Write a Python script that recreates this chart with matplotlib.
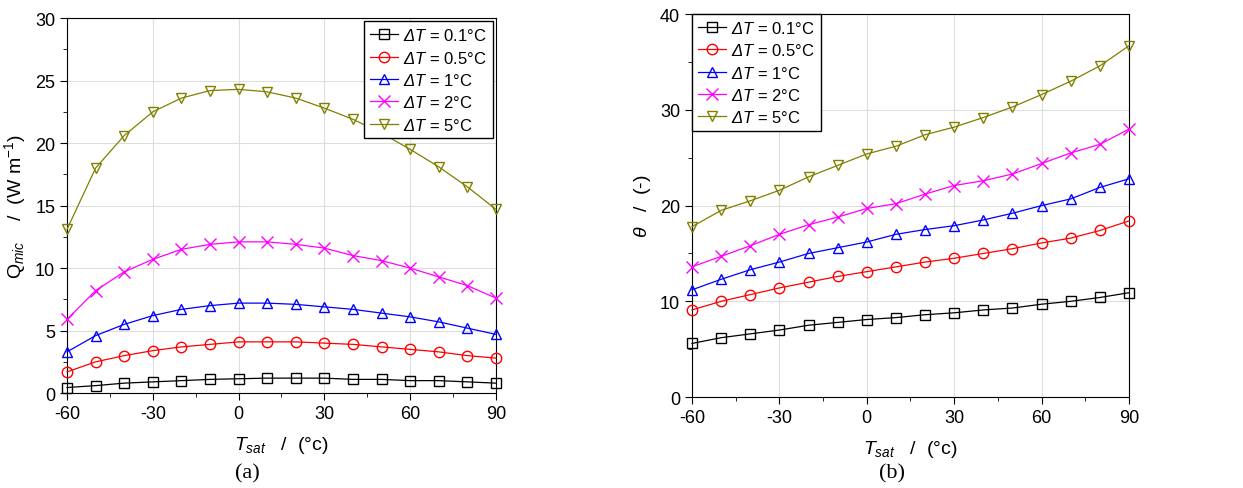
import matplotlib
matplotlib.use('Agg')
import matplotlib.pyplot as plt
from matplotlib.ticker import MultipleLocator

plt.rcParams['font.family'] = ['Liberation Sans', 'DejaVu Sans']
plt.rcParams['axes.unicode_minus'] = False
plt.rcParams['mathtext.fontset'] = 'custom'
plt.rcParams['mathtext.rm'] = 'Liberation Sans'
plt.rcParams['mathtext.it'] = 'Liberation Sans:italic'
# sf used as an italic face so the capital Delta gets slanted too
plt.rcParams['mathtext.sf'] = 'Liberation Sans:italic'

t_sat = [-60, -50, -40, -30, -20, -10, 0, 10, 20, 30, 40, 50, 60, 70, 80, 90]
labels = ['0.1', '0.5', '1', '2', '5']

# (a) Q_mic, W/m
q_01 = [0.45, 0.6, 0.8, 0.9, 1.0, 1.1, 1.15, 1.2, 1.2, 1.2, 1.1, 1.1, 1.0, 1.0, 0.9, 0.8]
q_05 = [1.7, 2.5, 3.0, 3.4, 3.7, 3.9, 4.1, 4.1, 4.1, 4.0, 3.9, 3.7, 3.5, 3.3, 3.0, 2.8]
q_1 = [3.3, 4.6, 5.5, 6.2, 6.7, 7.0, 7.2, 7.2, 7.1, 6.9, 6.7, 6.4, 6.1, 5.7, 5.2, 4.7]
q_2 = [5.9, 8.2, 9.7, 10.7, 11.5, 11.9, 12.1, 12.1, 11.9, 11.6, 11.0, 10.6, 10.0, 9.3, 8.6, 7.6]
q_5 = [13.1, 18.0, 20.6, 22.5, 23.6, 24.2, 24.3, 24.1, 23.6, 22.8, 21.9, 20.8, 19.5, 18.1, 16.5, 14.7]

# (b) theta, -
th_01 = [5.6, 6.2, 6.6, 7.0, 7.5, 7.8, 8.1, 8.3, 8.6, 8.8, 9.1, 9.3, 9.7, 10.0, 10.4, 10.9]
th_05 = [9.1, 10.0, 10.7, 11.4, 12.0, 12.6, 13.1, 13.6, 14.1, 14.5, 15.0, 15.5, 16.1, 16.6, 17.4, 18.4]
th_1 = [11.2, 12.3, 13.3, 14.1, 15.0, 15.6, 16.2, 17.0, 17.5, 17.9, 18.5, 19.2, 20.0, 20.7, 21.9, 22.8]
th_2 = [13.6, 14.7, 15.8, 17.0, 18.0, 18.8, 19.7, 20.2, 21.2, 22.1, 22.6, 23.3, 24.4, 25.5, 26.4, 28.0]
th_5 = [17.8, 19.5, 20.5, 21.6, 23.0, 24.2, 25.4, 26.2, 27.4, 28.2, 29.2, 30.3, 31.6, 33.0, 34.6, 36.7]

colors = ['black', 'red', 'blue', 'magenta', '#808000']
markers = ['s', 'o', '^', 'x', 'v']


def draw(ax, series, ymax, ymajor, ylabel, legend_loc):
    for y, lab, c, m in zip(series, labels, colors, markers):
        ax.plot(t_sat, y, color=c, lw=0.9, marker=m, ms=7.5 if m != 'x' else 8.5,
                mfc='none', mec=c, mew=1.0,
                label=r'$\mathsf{\Delta T}$ = ' + lab + '°C', clip_on=False, zorder=3)
    ax.set_xlim(-60, 90)
    ax.set_ylim(0, ymax)
    ax.xaxis.set_major_locator(MultipleLocator(30))
    ax.xaxis.set_minor_locator(MultipleLocator(15))
    ax.yaxis.set_major_locator(MultipleLocator(ymajor))
    ax.yaxis.set_minor_locator(MultipleLocator(ymajor / 2))
    ax.tick_params(which='major', direction='out', length=5, labelsize=13, top=False, right=False)
    ax.tick_params(which='minor', direction='out', length=3, top=False, right=False)
    ax.grid(True, which='major', color='#dddddd', lw=0.8)
    ax.set_axisbelow(True)
    ax.set_xlabel(r'$\mathit{T}_{\mathit{sat}}$   /  (°c)', fontsize=14, labelpad=9)
    ax.set_ylabel(ylabel, fontsize=14, labelpad=5)
    leg = ax.legend(loc=legend_loc, fontsize=12, handlelength=1.7, handletextpad=0.3,
                    borderaxespad=0.2 if legend_loc == 'upper right' else 0.0,
                    labelspacing=0.38, fancybox=False, framealpha=1, edgecolor='black',
                    borderpad=0.35)
    leg.get_frame().set_linewidth(1.0)
    leg.set_zorder(5)


fig = plt.figure(figsize=(12.43, 4.89), dpi=100)
ax1 = fig.add_axes([0.0539, 0.194, 0.3451, 0.767])
ax2 = fig.add_axes([0.5567, 0.186, 0.3516, 0.783])

draw(ax1, [q_01, q_05, q_1, q_2, q_5], 30, 5,
     r'Q$_{\mathit{mic}}$    /  (W m$^{-1}$)', 'upper right')
draw(ax2, [th_01, th_05, th_1, th_2, th_5], 40, 10,
     r'$\mathit{\theta}$   /  (-)', 'upper left')

fig.text(0.199, 0.022, '(a)', family='Liberation Serif', fontsize=16, ha='center')
fig.text(0.7175, 0.022, '(b)', family='Liberation Serif', fontsize=16, ha='center')

fig.savefig('out.png', dpi=100)
